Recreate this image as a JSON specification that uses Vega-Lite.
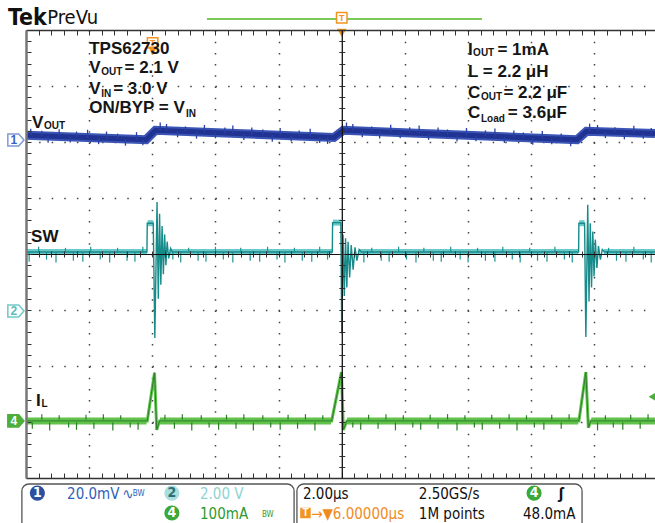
{
"$schema": "https://vega.github.io/schema/vega-lite/v6.json",
"width": 629, "height": 448,
"autosize": {"type": "none"},
"padding": {"left": 26, "top": 30, "right": 0, "bottom": 45},
"background": "white",
"config": {"view": {"stroke": null}, "axis": {"title": null, "labels": false}},
"resolve": {"axis": {"x": "independent", "y": "independent"}, "scale": {"color": "independent", "fill": "independent", "stroke": "independent"}},
"datasets": {
"vout": [{"t":-10,"v":2.12},{"t":-6.2,"v":2.04},{"t":-5.9,"v":2.21},{"t":-0.25,"v":2.08},{"t":0.05,"v":2.21},{"t":7.45,"v":2.04},{"t":7.75,"v":2.19},{"t":9.92,"v":2.15}],
"vout_sp": [{"t":-9.85,"lo":2.117,"hi":2.237},{"t":-9.5,"lo":2.11,"hi":2.2},{"t":-9.3,"lo":1.985,"hi":2.105},{"t":-8.95,"lo":2.098,"hi":2.228},{"t":-8.6,"lo":1.991,"hi":2.091},{"t":-8.4,"lo":2.086,"hi":2.186},{"t":-8.05,"lo":2.079,"hi":2.219},{"t":-7.7,"lo":1.962,"hi":2.072},{"t":-7.45,"lo":2.066,"hi":2.186},{"t":-7.1,"lo":2.059,"hi":2.149},{"t":-6.85,"lo":1.934,"hi":2.054},{"t":-6.5,"lo":2.047,"hi":2.177},{"t":-6.3,"lo":1.942,"hi":2.042},{"t":-5.75,"lo":2.207,"hi":2.347},{"t":-5.55,"lo":2.202,"hi":2.322},{"t":-5.2,"lo":2.084,"hi":2.194},{"t":-4.95,"lo":2.188,"hi":2.278},{"t":-4.6,"lo":2.06,"hi":2.18},{"t":-4.35,"lo":2.174,"hi":2.304},{"t":-4.0,"lo":2.066,"hi":2.166},{"t":-3.7,"lo":2.159,"hi":2.259},{"t":-3.45,"lo":2.154,"hi":2.294},{"t":-3.1,"lo":2.036,"hi":2.146},{"t":-2.85,"lo":2.14,"hi":2.26},{"t":-2.5,"lo":2.132,"hi":2.222},{"t":-2.2,"lo":2.005,"hi":2.125},{"t":-1.95,"lo":2.119,"hi":2.249},{"t":-1.6,"lo":2.011,"hi":2.111},{"t":-1.35,"lo":2.105,"hi":2.205},{"t":-1.0,"lo":2.097,"hi":2.237},{"t":-0.7,"lo":1.98,"hi":2.09},{"t":-0.45,"lo":1.965,"hi":2.085},{"t":0.15,"lo":2.208,"hi":2.348},{"t":0.35,"lo":2.203,"hi":2.323},{"t":0.65,"lo":2.086,"hi":2.196},{"t":0.95,"lo":2.189,"hi":2.279},{"t":1.2,"lo":2.064,"hi":2.184},{"t":1.55,"lo":2.176,"hi":2.306},{"t":1.85,"lo":2.069,"hi":2.169},{"t":2.15,"lo":2.162,"hi":2.262},{"t":2.45,"lo":2.155,"hi":2.295},{"t":2.75,"lo":2.038,"hi":2.148},{"t":3.05,"lo":2.141,"hi":2.261},{"t":3.35,"lo":2.134,"hi":2.224},{"t":3.65,"lo":2.007,"hi":2.127},{"t":3.95,"lo":2.12,"hi":2.25},{"t":4.25,"lo":2.013,"hi":2.113},{"t":4.55,"lo":2.107,"hi":2.207},{"t":4.85,"lo":2.1,"hi":2.24},{"t":5.15,"lo":1.983,"hi":2.093},{"t":5.45,"lo":2.086,"hi":2.206},{"t":5.75,"lo":2.079,"hi":2.169},{"t":6.05,"lo":1.952,"hi":2.072},{"t":6.35,"lo":2.065,"hi":2.195},{"t":6.65,"lo":1.958,"hi":2.058},{"t":6.95,"lo":2.051,"hi":2.151},{"t":7.25,"lo":1.925,"hi":2.045},{"t":7.85,"lo":2.188,"hi":2.328},{"t":8.1,"lo":2.184,"hi":2.304},{"t":8.35,"lo":2.069,"hi":2.179},{"t":8.65,"lo":2.173,"hi":2.263},{"t":8.95,"lo":2.048,"hi":2.168},{"t":9.25,"lo":2.162,"hi":2.292},{"t":9.55,"lo":2.057,"hi":2.157},{"t":9.8,"lo":2.152,"hi":2.252}],
"sw_band": [{"seg":"a","t":-10,"v":0.035},{"seg":"a","t":-6.17,"v":0.035},{"seg":"b","t":-6.15,"v":0.55},{"seg":"b","t":-5.97,"v":0.55},{"seg":"c","t":-5.45,"v":0.035},{"seg":"c","t":-0.31,"v":0.035},{"seg":"d","t":-0.28,"v":0.56},{"seg":"d","t":-0.03,"v":0.56},{"seg":"e","t":0.55,"v":0.035},{"seg":"e","t":7.49,"v":0.035},{"seg":"f","t":7.52,"v":0.55},{"seg":"f","t":7.69,"v":0.55},{"seg":"g","t":8.3,"v":0.035},{"seg":"g","t":9.92,"v":0.035}],
"sw": [{"t":-10,"v":0.035},{"t":-6.17,"v":0.035},{"t":-6.16,"v":0.55},{"t":-5.97,"v":0.55},{"t":-5.92,"v":-1.5},{"t":-5.85,"v":0.93},{"t":-5.81,"v":-0.8},{"t":-5.77,"v":0.72},{"t":-5.73,"v":-0.55},{"t":-5.69,"v":0.5},{"t":-5.65,"v":-0.36},{"t":-5.61,"v":0.35},{"t":-5.57,"v":-0.2},{"t":-5.53,"v":0.22},{"t":-5.48,"v":-0.08},{"t":-5.42,"v":0.1},{"t":-5.36,"v":0.035},{"t":-0.3,"v":0.035},{"t":-0.29,"v":0.56},{"t":-0.03,"v":0.56},{"t":0.0,"v":-1.42},{"t":0.04,"v":0.35},{"t":0.08,"v":-0.75},{"t":0.12,"v":0.28},{"t":0.16,"v":-0.6},{"t":0.2,"v":0.22},{"t":0.25,"v":-0.42},{"t":0.3,"v":0.16},{"t":0.36,"v":-0.28},{"t":0.42,"v":0.12},{"t":0.48,"v":-0.12},{"t":0.55,"v":0.08},{"t":0.62,"v":0.035},{"t":7.5,"v":0.035},{"t":7.51,"v":0.55},{"t":7.69,"v":0.55},{"t":7.73,"v":-1.48},{"t":7.79,"v":0.88},{"t":7.83,"v":-0.85},{"t":7.87,"v":0.55},{"t":7.91,"v":-0.6},{"t":7.95,"v":0.4},{"t":7.99,"v":-0.4},{"t":8.03,"v":0.26},{"t":8.08,"v":-0.25},{"t":8.13,"v":0.14},{"t":8.19,"v":-0.1},{"t":8.25,"v":0.08},{"t":8.32,"v":0.035},{"t":9.92,"v":0.035}],
"sw_sp": [{"t":-9.9,"lo":-0.14,"hi":0.035},{"t":-9.6,"lo":0.035,"hi":0.13},{"t":-9.35,"lo":-0.1,"hi":0.035},{"t":-9.05,"lo":-0.15,"hi":0.035},{"t":-8.75,"lo":0.035,"hi":0.11},{"t":-8.5,"lo":-0.12,"hi":0.035},{"t":-8.2,"lo":-0.14,"hi":0.035},{"t":-7.95,"lo":0.035,"hi":0.13},{"t":-7.65,"lo":-0.1,"hi":0.035},{"t":-7.35,"lo":-0.15,"hi":0.035},{"t":-7.1,"lo":0.035,"hi":0.11},{"t":-6.8,"lo":-0.12,"hi":0.035},{"t":-6.55,"lo":-0.14,"hi":0.035},{"t":-6.3,"lo":0.035,"hi":0.13},{"t":-5.35,"lo":-0.1,"hi":0.035},{"t":-5.1,"lo":-0.15,"hi":0.035},{"t":-4.85,"lo":0.035,"hi":0.11},{"t":-4.55,"lo":-0.12,"hi":0.035},{"t":-4.3,"lo":-0.14,"hi":0.035},{"t":-4.0,"lo":0.035,"hi":0.13},{"t":-3.75,"lo":-0.1,"hi":0.035},{"t":-3.45,"lo":-0.15,"hi":0.035},{"t":-3.2,"lo":0.035,"hi":0.11},{"t":-2.9,"lo":-0.12,"hi":0.035},{"t":-2.6,"lo":-0.14,"hi":0.035},{"t":-2.35,"lo":0.035,"hi":0.13},{"t":-2.05,"lo":-0.1,"hi":0.035},{"t":-1.8,"lo":-0.15,"hi":0.035},{"t":-1.5,"lo":0.035,"hi":0.11},{"t":-1.25,"lo":-0.12,"hi":0.035},{"t":-0.95,"lo":-0.14,"hi":0.035},{"t":-0.7,"lo":0.035,"hi":0.13},{"t":-0.45,"lo":-0.1,"hi":0.035},{"t":0.7,"lo":-0.15,"hi":0.035},{"t":0.95,"lo":0.035,"hi":0.11},{"t":1.25,"lo":-0.12,"hi":0.035},{"t":1.5,"lo":-0.14,"hi":0.035},{"t":1.8,"lo":0.035,"hi":0.13},{"t":2.05,"lo":-0.1,"hi":0.035},{"t":2.35,"lo":-0.15,"hi":0.035},{"t":2.6,"lo":0.035,"hi":0.11},{"t":2.9,"lo":-0.12,"hi":0.035},{"t":3.15,"lo":-0.14,"hi":0.035},{"t":3.45,"lo":0.035,"hi":0.13},{"t":3.75,"lo":-0.1,"hi":0.035},{"t":4.0,"lo":-0.15,"hi":0.035},{"t":4.3,"lo":0.035,"hi":0.11},{"t":4.55,"lo":-0.12,"hi":0.035},{"t":4.85,"lo":-0.14,"hi":0.035},{"t":5.1,"lo":0.035,"hi":0.13},{"t":5.4,"lo":-0.1,"hi":0.035},{"t":5.65,"lo":-0.15,"hi":0.035},{"t":5.95,"lo":0.035,"hi":0.11},{"t":6.2,"lo":-0.12,"hi":0.035},{"t":6.5,"lo":-0.14,"hi":0.035},{"t":6.75,"lo":0.035,"hi":0.13},{"t":7.05,"lo":-0.1,"hi":0.035},{"t":7.3,"lo":-0.15,"hi":0.035},{"t":8.45,"lo":0.035,"hi":0.11},{"t":8.7,"lo":-0.12,"hi":0.035},{"t":9.0,"lo":-0.14,"hi":0.035},{"t":9.25,"lo":0.035,"hi":0.13},{"t":9.55,"lo":-0.1,"hi":0.035},{"t":9.8,"lo":-0.15,"hi":0.035}],
"il_band": [{"seg":"a","t":-10,"v":-2.98},{"seg":"a","t":-6.18,"v":-2.98},{"seg":"b","t":-5.76,"v":-2.98},{"seg":"b","t":-0.34,"v":-2.98},{"seg":"c","t":0.17,"v":-2.98},{"seg":"c","t":7.49,"v":-2.98},{"seg":"d","t":7.9,"v":-2.98},{"seg":"d","t":9.92,"v":-2.98}],
"il": [{"t":-10,"v":-2.98},{"t":-6.16,"v":-2.98},{"t":-5.93,"v":-2.12},{"t":-5.86,"v":-3.14},{"t":-5.77,"v":-2.98},{"t":-0.32,"v":-2.98},{"t":-0.01,"v":-2.11},{"t":0.05,"v":-3.14},{"t":0.16,"v":-2.98},{"t":7.51,"v":-2.98},{"t":7.73,"v":-2.11},{"t":7.81,"v":-3.1},{"t":7.89,"v":-2.98},{"t":9.92,"v":-2.98}],
"il_sp": [{"t":-9.8,"lo":-3.12,"hi":-2.98},{"t":-9.5,"lo":-2.98,"hi":-2.86},{"t":-9.25,"lo":-3.15,"hi":-2.98},{"t":-8.95,"lo":-2.98,"hi":-2.88},{"t":-8.65,"lo":-3.1,"hi":-2.98},{"t":-8.4,"lo":-3.14,"hi":-2.98},{"t":-8.1,"lo":-2.98,"hi":-2.87},{"t":-7.85,"lo":-3.12,"hi":-2.98},{"t":-7.55,"lo":-2.98,"hi":-2.86},{"t":-7.25,"lo":-3.15,"hi":-2.98},{"t":-7.0,"lo":-2.98,"hi":-2.88},{"t":-6.7,"lo":-3.1,"hi":-2.98},{"t":-6.45,"lo":-3.14,"hi":-2.98},{"t":-5.6,"lo":-2.98,"hi":-2.87},{"t":-5.3,"lo":-3.12,"hi":-2.98},{"t":-5.05,"lo":-2.98,"hi":-2.86},{"t":-4.75,"lo":-3.15,"hi":-2.98},{"t":-4.45,"lo":-2.98,"hi":-2.88},{"t":-4.2,"lo":-3.1,"hi":-2.98},{"t":-3.9,"lo":-3.14,"hi":-2.98},{"t":-3.65,"lo":-2.98,"hi":-2.87},{"t":-3.35,"lo":-3.12,"hi":-2.98},{"t":-3.1,"lo":-2.98,"hi":-2.86},{"t":-2.8,"lo":-3.15,"hi":-2.98},{"t":-2.5,"lo":-2.98,"hi":-2.88},{"t":-2.25,"lo":-3.1,"hi":-2.98},{"t":-1.95,"lo":-3.14,"hi":-2.98},{"t":-1.7,"lo":-2.98,"hi":-2.87},{"t":-1.4,"lo":-3.12,"hi":-2.98},{"t":-1.15,"lo":-2.98,"hi":-2.86},{"t":-0.85,"lo":-3.15,"hi":-2.98},{"t":-0.6,"lo":-2.98,"hi":-2.88},{"t":0.35,"lo":-3.1,"hi":-2.98},{"t":0.6,"lo":-3.14,"hi":-2.98},{"t":0.85,"lo":-2.98,"hi":-2.87},{"t":1.15,"lo":-3.12,"hi":-2.98},{"t":1.4,"lo":-2.98,"hi":-2.86},{"t":1.7,"lo":-3.15,"hi":-2.98},{"t":1.95,"lo":-2.98,"hi":-2.88},{"t":2.25,"lo":-3.1,"hi":-2.98},{"t":2.5,"lo":-3.14,"hi":-2.98},{"t":2.8,"lo":-2.98,"hi":-2.87},{"t":3.05,"lo":-3.12,"hi":-2.98},{"t":3.35,"lo":-2.98,"hi":-2.86},{"t":3.65,"lo":-3.15,"hi":-2.98},{"t":3.9,"lo":-2.98,"hi":-2.88},{"t":4.2,"lo":-3.1,"hi":-2.98},{"t":4.45,"lo":-3.14,"hi":-2.98},{"t":4.75,"lo":-2.98,"hi":-2.87},{"t":5.0,"lo":-3.12,"hi":-2.98},{"t":5.3,"lo":-2.98,"hi":-2.86},{"t":5.55,"lo":-3.15,"hi":-2.98},{"t":5.85,"lo":-2.98,"hi":-2.88},{"t":6.1,"lo":-3.1,"hi":-2.98},{"t":6.4,"lo":-3.14,"hi":-2.98},{"t":6.65,"lo":-2.98,"hi":-2.87},{"t":6.95,"lo":-3.12,"hi":-2.98},{"t":7.2,"lo":-2.98,"hi":-2.86},{"t":8.1,"lo":-3.15,"hi":-2.98},{"t":8.35,"lo":-2.98,"hi":-2.88},{"t":8.6,"lo":-3.1,"hi":-2.98},{"t":8.9,"lo":-3.14,"hi":-2.98},{"t":9.15,"lo":-2.98,"hi":-2.87},{"t":9.45,"lo":-3.12,"hi":-2.98},{"t":9.7,"lo":-2.98,"hi":-2.86}],
"big": [{"t":-8,"d":3.571,"s":"TPS62730"},{"t":-8,"d":3.232,"s":"V"},{"t":-6.88,"d":3.232,"s":"= 2.1 V"},{"t":-8,"d":2.857,"s":"V"},{"t":-7.24,"d":2.857,"s":"= 3.0 V"},{"t":-8,"d":2.518,"s":"ON/BYP = V"},{"t":4,"d":3.554,"s":"I"},{"t":4.93,"d":3.554,"s":"= 1mA"},{"t":4,"d":3.161,"s":"L = 2.2 μH"},{"t":4,"d":2.786,"s":"C"},{"t":5.12,"d":2.786,"s":"= 2.2 μF"},{"t":4,"d":2.429,"s":"C"},{"t":5.26,"d":2.429,"s":"= 3.6μF"},{"t":-9.81,"d":2.25,"s":"V"},{"t":-9.84,"d":0.214,"s":"SW"},{"t":-9.68,"d":-2.714,"s":"I"}],
"sub": [{"t":-7.62,"d":3.196,"s":"OUT"},{"t":-7.62,"d":2.804,"s":"IN"},{"t":-4.93,"d":2.446,"s":"IN"},{"t":4.16,"d":3.536,"s":"OUT"},{"t":4.41,"d":2.75,"s":"OUT"},{"t":4.41,"d":2.357,"s":"Load"},{"t":-9.43,"d":2.232,"s":"OUT"},{"t":-9.51,"d":-2.732,"s":"L"}],
"chmark": [{"ch":"1","t":-10.32,"d":2.036},{"ch":"2","t":-10.32,"d":-1.018},{"ch":"4","t":-10.32,"d":-2.98}],
"foot": [{"t":-8.70,"d":-4.375,"s":"20.0mV","ch":"1"},{"t":-4.49,"d":-4.375,"s":"2.00 V","ch":"2"},{"t":-4.49,"d":-4.732,"s":"100mA","ch":"4"},{"t":-1.23,"d":-4.375,"s":"2.00μs","ch":"k"},{"t":2.44,"d":-4.375,"s":"2.50GS/s","ch":"k"},{"t":2.44,"d":-4.732,"s":"1M points","ch":"k"},{"t":5.74,"d":-4.732,"s":"48.0mA","ch":"k"},{"t":-0.97,"d":-4.732,"s":"→▼6.00000μs","ch":"T"},{"t":-6.95,"d":-4.375,"s":"∿","ch":"1"}],
"foot_small": [{"t":-6.62,"d":-4.33,"s":"BW","ch":"1"},{"t":-2.53,"d":-4.69,"s":"BW","ch":"4"}],
"circles": [{"t":-9.64,"d":-4.27,"ch":"1"},{"t":-5.38,"d":-4.27,"ch":"2"},{"t":-5.38,"d":-4.625,"ch":"4"},{"t":6.09,"d":-4.27,"ch":"4"}],
"boxes": [{"t1":-10.13,"t2":-1.51,"d1":-4.107,"d2":-4.95},{"t1":-1.42,"t2":7.61,"d1":-4.107,"d2":-4.95}]
},
"layer": [
{"data":{"name":"vout"},"mark":{"type":"line","color":"#3a55b5","strokeWidth":9,"clip":true},
 "encoding":{"x":{"field":"t","type":"quantitative","scale":{"domain":[-10,9.92],"nice":false,"zero":false},
   "axis":{"orient":"bottom","values":[-10,-9.6,-9.2,-8.8,-8.4,-8,-7.6,-7.2,-6.8,-6.4,-6,-5.6,-5.2,-4.8,-4.4,-4,-3.6,-3.2,-2.8,-2.4,-2,-1.6,-1.2,-0.8,-0.4,0,0.4,0.8,1.2,1.6,2,2.4,2.8,3.2,3.6,4,4.4,4.8,5.2,5.6,6,6.4,6.8,7.2,7.6,8,8.4,8.8,9.2,9.6],"domain":true,"domainColor":"#333","domainWidth":1.5,"ticks":true,"tickColor":"#333","tickSize":-5,"tickWidth":1,"labels":false,"grid":false,"title":null,"zindex":1}},
  "y":{"field":"v","type":"quantitative","scale":{"domain":[-4,4],"nice":false,"zero":false},
   "axis":{"orient":"left","values":[-4,-3.8,-3.6,-3.4,-3.2,-3,-2.8,-2.6,-2.4,-2.2,-2,-1.8,-1.6,-1.4,-1.2,-1,-0.8,-0.6,-0.4,-0.2,0,0.2,0.4,0.6,0.8,1,1.2,1.4,1.6,1.8,2,2.2,2.4,2.6,2.8,3,3.2,3.4,3.6,3.8,4],"domain":true,"domainColor":"#777","domainWidth":2.5,"ticks":true,"tickColor":"#333","tickSize":-5,"tickWidth":1,"labels":false,"grid":false,"title":null,"zindex":1}}}},
{"data":{"name":"vout"},"mark":{"type":"line","color":"#213392","strokeWidth":5,"clip":true},
 "encoding":{"x":{"field":"t","type":"quantitative","scale":{"domain":[-10,9.92],"nice":false,"zero":false},"axis":null},
  "y":{"field":"v","type":"quantitative","scale":{"domain":[-4,4],"nice":false,"zero":false},"axis":null}}},
{"data":{"name":"vout_sp"},"mark":{"type":"rule","color":"#2a40a4","strokeWidth":1.3,"clip":true},
 "encoding":{"x":{"field":"t","type":"quantitative","scale":{"domain":[-10,9.92],"nice":false,"zero":false},
   "axis":{"orient":"bottom","values":[-8,-6,-4,-2,2,4,6,8],"grid":true,"gridDash":[1.5,9.7],"gridColor":"#444","gridWidth":1.5,"ticks":false,"domain":false,"labels":false,"title":null,"zindex":0}},
  "y":{"field":"lo","type":"quantitative","scale":{"domain":[-4,4],"nice":false,"zero":false},
   "axis":{"orient":"left","values":[-3,-2,-1,1,2,3],"grid":true,"gridDash":[1.5,11.1],"gridColor":"#444","gridWidth":1.5,"ticks":false,"domain":false,"labels":false,"title":null,"zindex":0}},
  "y2":{"field":"hi"}}},
{"data":{"name":"sw_band"},"mark":{"type":"line","color":"#6cc9c9","strokeWidth":6,"clip":true},
 "encoding":{"detail":{"field":"seg"},"x":{"field":"t","type":"quantitative","scale":{"domain":[-10,9.92],"nice":false,"zero":false},
   "axis":{"orient":"bottom","offset":-224,"values":[-10,-9.6,-9.2,-8.8,-8.4,-8,-7.6,-7.2,-6.8,-6.4,-6,-5.6,-5.2,-4.8,-4.4,-4,-3.6,-3.2,-2.8,-2.4,-2,-1.6,-1.2,-0.8,-0.4,0,0.4,0.8,1.2,1.6,2,2.4,2.8,3.2,3.6,4,4.4,4.8,5.2,5.6,6,6.4,6.8,7.2,7.6,8,8.4,8.8,9.2,9.6],"domain":true,"domainColor":"#111","domainWidth":1,"ticks":true,"tickColor":"#333","tickSize":3,"tickWidth":1,"labels":false,"grid":false,"title":null,"zindex":1}},
  "y":{"field":"v","type":"quantitative","scale":{"domain":[-4,4],"nice":false,"zero":false},
   "axis":{"orient":"left","offset":-315.8,"values":[-4,-3.8,-3.6,-3.4,-3.2,-3,-2.8,-2.6,-2.4,-2.2,-2,-1.8,-1.6,-1.4,-1.2,-1,-0.8,-0.6,-0.4,-0.2,0,0.2,0.4,0.6,0.8,1,1.2,1.4,1.6,1.8,2,2.2,2.4,2.6,2.8,3,3.2,3.4,3.6,3.8,4],"domain":true,"domainColor":"#111","domainWidth":1.3,"ticks":true,"tickColor":"#333","tickSize":3,"tickWidth":1,"labels":false,"grid":false,"title":null,"zindex":1}}}},
{"data":{"name":"sw_sp"},"mark":{"type":"rule","color":"#1f9494","strokeWidth":1.2,"clip":true},
 "encoding":{"x":{"field":"t","type":"quantitative","scale":{"domain":[-10,9.92],"nice":false,"zero":false},"axis":null},
  "y":{"field":"lo","type":"quantitative","scale":{"domain":[-4,4],"nice":false,"zero":false},"axis":null},"y2":{"field":"hi"}}},
{"data":{"name":"sw"},"mark":{"type":"line","color":"#178a8a","strokeWidth":1.4,"clip":true},
 "encoding":{"x":{"field":"t","type":"quantitative","scale":{"domain":[-10,9.92],"nice":false,"zero":false},
   "axis":{"orient":"top","offset":-224,"values":[-10,-9.6,-9.2,-8.8,-8.4,-8,-7.6,-7.2,-6.8,-6.4,-6,-5.6,-5.2,-4.8,-4.4,-4,-3.6,-3.2,-2.8,-2.4,-2,-1.6,-1.2,-0.8,-0.4,0,0.4,0.8,1.2,1.6,2,2.4,2.8,3.2,3.6,4,4.4,4.8,5.2,5.6,6,6.4,6.8,7.2,7.6,8,8.4,8.8,9.2,9.6],"domain":false,"ticks":true,"tickColor":"#333","tickSize":3,"tickWidth":1,"labels":false,"grid":false,"title":null,"zindex":1}},
  "y":{"field":"v","type":"quantitative","scale":{"domain":[-4,4],"nice":false,"zero":false},
   "axis":{"orient":"right","offset":-313.2,"values":[-4,-3.8,-3.6,-3.4,-3.2,-3,-2.8,-2.6,-2.4,-2.2,-2,-1.8,-1.6,-1.4,-1.2,-1,-0.8,-0.6,-0.4,-0.2,0,0.2,0.4,0.6,0.8,1,1.2,1.4,1.6,1.8,2,2.2,2.4,2.6,2.8,3,3.2,3.4,3.6,3.8,4],"domain":false,"ticks":true,"tickColor":"#333","tickSize":3,"tickWidth":1,"labels":false,"grid":false,"title":null,"zindex":1}}}},
{"data":{"name":"il_band"},"mark":{"type":"line","color":"#62c24a","strokeWidth":7,"clip":true},
 "encoding":{"detail":{"field":"seg"},"x":{"field":"t","type":"quantitative","scale":{"domain":[-10,9.92],"nice":false,"zero":false},
   "axis":{"orient":"top","values":[-10,-9.6,-9.2,-8.8,-8.4,-8,-7.6,-7.2,-6.8,-6.4,-6,-5.6,-5.2,-4.8,-4.4,-4,-3.6,-3.2,-2.8,-2.4,-2,-1.6,-1.2,-0.8,-0.4,0,0.4,0.8,1.2,1.6,2,2.4,2.8,3.2,3.6,4,4.4,4.8,5.2,5.6,6,6.4,6.8,7.2,7.6,8,8.4,8.8,9.2,9.6],"domain":true,"domainColor":"#333","domainWidth":1.5,"ticks":true,"tickColor":"#333","tickSize":-5,"tickWidth":1,"labels":false,"grid":false,"title":null,"zindex":1}},
  "y":{"field":"v","type":"quantitative","scale":{"domain":[-4,4],"nice":false,"zero":false},"axis":null}}},
{"data":{"name":"il_sp"},"mark":{"type":"rule","color":"#2c7d28","strokeWidth":1.2,"clip":true},
 "encoding":{"x":{"field":"t","type":"quantitative","scale":{"domain":[-10,9.92],"nice":false,"zero":false},"axis":null},
  "y":{"field":"lo","type":"quantitative","scale":{"domain":[-4,4],"nice":false,"zero":false},"axis":null},"y2":{"field":"hi"}}},
{"data":{"name":"il"},"mark":{"type":"line","color":"#5cc24a","strokeWidth":3,"clip":true},
 "encoding":{"x":{"field":"t","type":"quantitative","scale":{"domain":[-10,9.92],"nice":false,"zero":false},"axis":null},
  "y":{"field":"v","type":"quantitative","scale":{"domain":[-4,4],"nice":false,"zero":false},"axis":null}}},
{"data":{"name":"il"},"mark":{"type":"line","color":"#2e7d2a","strokeWidth":1,"clip":true},
 "encoding":{"x":{"field":"t","type":"quantitative","scale":{"domain":[-10,9.92],"nice":false,"zero":false},"axis":null},
  "y":{"field":"v","type":"quantitative","scale":{"domain":[-4,4],"nice":false,"zero":false},"axis":null}}},
{"data":{"values":[{"t1":-4.27,"t2":4.44,"d":4.196}]},"mark":{"type":"rule","color":"#7cc95a","strokeWidth":2,"clip":false},
 "encoding":{"x":{"field":"t1","type":"quantitative","scale":{"domain":[-10,9.92],"nice":false,"zero":false},"axis":null},"x2":{"field":"t2"},
  "y":{"field":"d","type":"quantitative","scale":{"domain":[-4,4],"nice":false,"zero":false},"axis":null}}},
{"data":{"values":[{"t":0,"d":4.22},{"t":-5.99,"d":3.77}]},"mark":{"type":"point","shape":"square","filled":true,"fill":"white","stroke":"#f39322","strokeWidth":1.5,"size":110,"opacity":1,"clip":false},
 "encoding":{"x":{"field":"t","type":"quantitative","scale":{"domain":[-10,9.92],"nice":false,"zero":false},"axis":null},
  "y":{"field":"d","type":"quantitative","scale":{"domain":[-4,4],"nice":false,"zero":false},"axis":null}}},
{"data":{"values":[{"t":0,"d":3.95},{"t":-5.99,"d":3.63}]},"mark":{"type":"point","shape":"triangle-down","filled":true,"color":"#f39322","size":90,"opacity":1,"clip":false},
 "encoding":{"x":{"field":"t","type":"quantitative","scale":{"domain":[-10,9.92],"nice":false,"zero":false},"axis":null},
  "y":{"field":"d","type":"quantitative","scale":{"domain":[-4,4],"nice":false,"zero":false},"axis":null}}},
{"data":{"values":[{"t":0,"d":4.22,"s":"T"},{"t":-5.99,"d":3.77,"s":"T"}]},"mark":{"type":"text","align":"center","baseline":"middle","font":"Liberation Sans","fontWeight":"bold","fontSize":9,"color":"#f39322","clip":false},
 "encoding":{"x":{"field":"t","type":"quantitative","scale":{"domain":[-10,9.92],"nice":false,"zero":false},"axis":null},
  "y":{"field":"d","type":"quantitative","scale":{"domain":[-4,4],"nice":false,"zero":false},"axis":null},"text":{"field":"s"}}},
{"data":{"name":"chmark"},"mark":{"type":"point","shape":"M -1 -0.75 L 0.35 -0.75 L 1 0 L 0.35 0.75 L -1 0.75 Z","filled":true,"size":260,"strokeWidth":1.5,"opacity":1,"clip":false},
 "encoding":{"x":{"field":"t","type":"quantitative","scale":{"domain":[-10,9.92],"nice":false,"zero":false},"axis":null},
  "y":{"field":"d","type":"quantitative","scale":{"domain":[-4,4],"nice":false,"zero":false},"axis":null},
  "fill":{"field":"ch","type":"nominal","scale":{"domain":["1","2","4"],"range":["#ffffff","#ffffff","#4caf3c"]},"legend":null},
  "stroke":{"field":"ch","type":"nominal","scale":{"domain":["1","2","4"],"range":["#7f99d8","#6fc9c9","#4caf3c"]},"legend":null}}},
{"data":{"name":"chmark"},"mark":{"type":"text","align":"center","baseline":"middle","dx":-2,"font":"Liberation Sans","fontWeight":"bold","fontSize":12,"clip":false},
 "encoding":{"x":{"field":"t","type":"quantitative","scale":{"domain":[-10,9.92],"nice":false,"zero":false},"axis":null},
  "y":{"field":"d","type":"quantitative","scale":{"domain":[-4,4],"nice":false,"zero":false},"axis":null},"text":{"field":"ch"},
  "color":{"field":"ch","type":"nominal","scale":{"domain":["1","2","4"],"range":["#3a5fc0","#5bbdbd","#ffffff"]},"legend":null}}},
{"data":{"values":[{"t":9.86,"d":-2.55}]},"mark":{"type":"point","shape":"triangle-left","filled":true,"color":"#4caf3c","size":110,"opacity":1,"clip":false},
 "encoding":{"x":{"field":"t","type":"quantitative","scale":{"domain":[-10,9.92],"nice":false,"zero":false},"axis":null},
  "y":{"field":"d","type":"quantitative","scale":{"domain":[-4,4],"nice":false,"zero":false},"axis":null}}},
{"data":{"name":"big"},"mark":{"type":"text","align":"left","baseline":"alphabetic","font":"Liberation Sans","fontWeight":"bold","fontSize":17,"color":"#151515","clip":false},
 "encoding":{"x":{"field":"t","type":"quantitative","scale":{"domain":[-10,9.92],"nice":false,"zero":false},"axis":null},
  "y":{"field":"d","type":"quantitative","scale":{"domain":[-4,4],"nice":false,"zero":false},"axis":null},"text":{"field":"s"}}},
{"data":{"name":"sub"},"mark":{"type":"text","align":"left","baseline":"alphabetic","font":"Liberation Sans","fontWeight":"bold","fontSize":10,"color":"#151515","clip":false},
 "encoding":{"x":{"field":"t","type":"quantitative","scale":{"domain":[-10,9.92],"nice":false,"zero":false},"axis":null},
  "y":{"field":"d","type":"quantitative","scale":{"domain":[-4,4],"nice":false,"zero":false},"axis":null},"text":{"field":"s"}}},
{"data":{"values":[{"t":-10.57,"d":4.09,"s":"Tek"}]},"mark":{"type":"text","align":"left","baseline":"alphabetic","font":"Liberation Sans Narrow, DejaVu Sans Condensed, Liberation Sans","fontWeight":"bold","fontSize":23,"letterSpacing":-1,"color":"#111","clip":false},
 "encoding":{"x":{"field":"t","type":"quantitative","scale":{"domain":[-10,9.92],"nice":false,"zero":false},"axis":null},
  "y":{"field":"d","type":"quantitative","scale":{"domain":[-4,4],"nice":false,"zero":false},"axis":null},"text":{"field":"s"}}},
{"data":{"values":[{"t":-9.33,"d":4.107,"s":"PreVu"}]},"mark":{"type":"text","align":"left","baseline":"alphabetic","font":"Liberation Sans Narrow, DejaVu Sans Condensed, Liberation Sans","fontSize":20,"letterSpacing":0.5,"color":"#111","clip":false},
 "encoding":{"x":{"field":"t","type":"quantitative","scale":{"domain":[-10,9.92],"nice":false,"zero":false},"axis":null},
  "y":{"field":"d","type":"quantitative","scale":{"domain":[-4,4],"nice":false,"zero":false},"axis":null},"text":{"field":"s"}}},
{"data":{"name":"boxes"},"mark":{"type":"rect","fill":"white","stroke":"#555","strokeWidth":1.3,"cornerRadius":7,"clip":false},
 "encoding":{"x":{"field":"t1","type":"quantitative","scale":{"domain":[-10,9.92],"nice":false,"zero":false},"axis":null},"x2":{"field":"t2"},
  "y":{"field":"d1","type":"quantitative","scale":{"domain":[-4,4],"nice":false,"zero":false},"axis":null},"y2":{"field":"d2"}}},
{"data":{"name":"circles"},"mark":{"type":"point","shape":"circle","filled":true,"size":230,"opacity":1,"clip":false},
 "encoding":{"x":{"field":"t","type":"quantitative","scale":{"domain":[-10,9.92],"nice":false,"zero":false},"axis":null},
  "y":{"field":"d","type":"quantitative","scale":{"domain":[-4,4],"nice":false,"zero":false},"axis":null},
  "color":{"field":"ch","type":"nominal","scale":{"domain":["1","2","4"],"range":["#2d4f9e","#a9dede","#3aa83a"]},"legend":null}}},
{"data":{"name":"circles"},"mark":{"type":"text","align":"center","baseline":"middle","font":"Liberation Sans Narrow, DejaVu Sans Condensed, Liberation Sans","fontWeight":"bold","fontSize":14,"clip":false},
 "encoding":{"x":{"field":"t","type":"quantitative","scale":{"domain":[-10,9.92],"nice":false,"zero":false},"axis":null},
  "y":{"field":"d","type":"quantitative","scale":{"domain":[-4,4],"nice":false,"zero":false},"axis":null},"text":{"field":"ch"},
  "color":{"field":"ch","type":"nominal","scale":{"domain":["1","2","4"],"range":["#ffffff","#2a6f6f","#ffffff"]},"legend":null}}},
{"data":{"values":[{"t":-1.15,"d":-4.625}]},"mark":{"type":"point","shape":"square","filled":true,"color":"#f39322","size":110,"opacity":1,"clip":false},
 "encoding":{"x":{"field":"t","type":"quantitative","scale":{"domain":[-10,9.92],"nice":false,"zero":false},"axis":null},
  "y":{"field":"d","type":"quantitative","scale":{"domain":[-4,4],"nice":false,"zero":false},"axis":null}}},
{"data":{"values":[{"t":-1.15,"d":-4.625,"s":"T"}]},"mark":{"type":"text","align":"center","baseline":"middle","font":"Liberation Sans","fontWeight":"bold","fontSize":10,"color":"white","clip":false},
 "encoding":{"x":{"field":"t","type":"quantitative","scale":{"domain":[-10,9.92],"nice":false,"zero":false},"axis":null},
  "y":{"field":"d","type":"quantitative","scale":{"domain":[-4,4],"nice":false,"zero":false},"axis":null},"text":{"field":"s"}}},
{"data":{"name":"foot"},"mark":{"type":"text","align":"left","baseline":"alphabetic","font":"Liberation Sans Narrow, DejaVu Sans Condensed, Liberation Sans","fontSize":15,"clip":false},
 "encoding":{"x":{"field":"t","type":"quantitative","scale":{"domain":[-10,9.92],"nice":false,"zero":false},"axis":null},
  "y":{"field":"d","type":"quantitative","scale":{"domain":[-4,4],"nice":false,"zero":false},"axis":null},"text":{"field":"s"},
  "color":{"field":"ch","type":"nominal","scale":{"domain":["1","2","4","T","k"],"range":["#2f5fb8","#8fd3d3","#2f9a2f","#f08c1e","#111111"]},"legend":null}}},
{"data":{"name":"foot_small"},"mark":{"type":"text","align":"left","baseline":"alphabetic","font":"Liberation Sans Narrow, DejaVu Sans Condensed, Liberation Sans","fontSize":8,"clip":false},
 "encoding":{"x":{"field":"t","type":"quantitative","scale":{"domain":[-10,9.92],"nice":false,"zero":false},"axis":null},
  "y":{"field":"d","type":"quantitative","scale":{"domain":[-4,4],"nice":false,"zero":false},"axis":null},"text":{"field":"s"},
  "color":{"field":"ch","type":"nominal","scale":{"domain":["1","4"],"range":["#2f5fb8","#2f9a2f"]},"legend":null}}},
{"data":{"values":[{"t":6.85,"d":-4.375,"s":"ʃ"}]},"mark":{"type":"text","align":"left","baseline":"alphabetic","font":"Liberation Sans","fontWeight":"bold","fontSize":17,"color":"#111","clip":false},
 "encoding":{"x":{"field":"t","type":"quantitative","scale":{"domain":[-10,9.92],"nice":false,"zero":false},"axis":null},
  "y":{"field":"d","type":"quantitative","scale":{"domain":[-4,4],"nice":false,"zero":false},"axis":null},"text":{"field":"s"}}}
]
}
